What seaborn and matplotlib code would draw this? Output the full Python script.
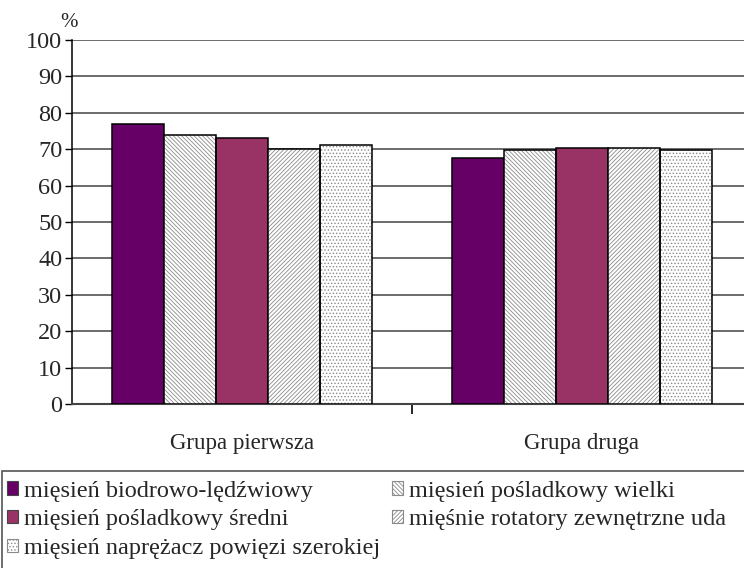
import pandas as pd
import seaborn as sns
import matplotlib.pyplot as plt
from matplotlib.patches import Patch, Rectangle

# Dane
grupy = ['Grupa pierwsza', 'Grupa druga']
miesnie = ['mięsień biodrowo-lędźwiowy',
           'mięsień pośladkowy wielki',
           'mięsień pośladkowy średni',
           'mięśnie rotatory zewnętrzne uda',
           'mięsień naprężacz powięzi szerokiej']
wartosci_pierwsza = [77, 74, 73, 70, 71.2]
wartosci_druga = [67.5, 69.8, 70.3, 70.2, 69.8]

kolory = ['#660066', 'white', '#993366', 'white', 'white']
kreskowanie = [None, '\\\\\\\\\\\\\\\\', None, '////////', '.....']

df = pd.DataFrame({
    'grupa': [grupy[0]] * 5 + [grupy[1]] * 5,
    'miesien': miesnie * 2,
    'procent': wartosci_pierwsza + wartosci_druga,
})

sns.set_theme(style='white')
plt.rcParams['font.family'] = ['Liberation Serif', 'DejaVu Serif']
plt.rcParams['hatch.linewidth'] = 0.6
fs = 16.5
fs_leg = 17.5

fig = plt.figure(figsize=(7.44, 5.68), dpi=100)
ax = fig.add_axes([72 / 744, 1 - 404 / 568, 680 / 744, 364 / 568])

sns.barplot(data=df, x='grupa', y='procent', hue='miesien', order=grupy,
            hue_order=miesnie, palette=kolory, width=0.765, gap=0,
            saturation=1, legend=False, ax=ax, zorder=3)

# Kreskowanie + obramowanie
for cont, h in zip(ax.containers, kreskowanie):
    for p in cont:
        if h:
            p.set_hatch(h)
            p.set_edgecolor('#8a8a8a')
            p.set_linewidth(0)
            ax.add_patch(Rectangle(p.get_xy(), p.get_width(), p.get_height(),
                                   fill=False, edgecolor='black', lw=1.1, zorder=4))
        else:
            p.set_edgecolor('black')
            p.set_linewidth(1.1)

ax.set_xlim(-0.5, 1.5)
ax.set_ylim(0, 100)
ax.set_yticks(range(0, 101, 10))
ax.yaxis.grid(True, color='#444444', lw=1.1, zorder=0)
ax.set_axisbelow(True)
for s in ['top', 'right']:
    ax.spines[s].set_visible(False)
ax.spines['left'].set_color('black')
ax.spines['bottom'].set_color('#444444')
ax.spines['left'].set_linewidth(1.1)
ax.spines['bottom'].set_linewidth(1.5)

ax.tick_params(axis='y', left=True, length=5, width=1, color='black',
               labelsize=17.5, pad=2)
ax.tick_params(axis='x', which='major', length=0, labelsize=fs, pad=21)
ax.set_xticks([0.5], minor=True)
ax.tick_params(axis='x', which='minor', bottom=True, length=7, width=1.2, color='black')
ax.set_xlabel('')
ax.set_ylabel('')
ax.text(-0.004, 1.048, '%', transform=ax.transAxes, fontsize=15, ha='center', va='center')

# Legenda
uchwyty = [Patch(facecolor=c, edgecolor='#444444' if h is None else '#8a8a8a',
                 hatch=h, lw=0.8) for c, h in zip(kolory, kreskowanie)]
kolejnosc = [0, 2, 4, 1, 3]
fig.legend([uchwyty[i] for i in kolejnosc], [miesnie[i] for i in kolejnosc],
           ncol=2, loc='upper left', bbox_to_anchor=(3 / 744, 1 - 477 / 568),
           bbox_transform=fig.transFigure, frameon=False, fontsize=fs_leg,
           handlelength=0.45, handleheight=0.45, handletextpad=0.25,
           labelspacing=0.32, borderpad=0.15, borderaxespad=0, columnspacing=0.5)
fig.patches.append(Rectangle((2 / 744, -0.05), 1.0, 1 - 471 / 568 + 0.05,
                             transform=fig.transFigure, fill=False,
                             edgecolor='#555555', lw=1.2))

fig.savefig('out.png', dpi=100)
